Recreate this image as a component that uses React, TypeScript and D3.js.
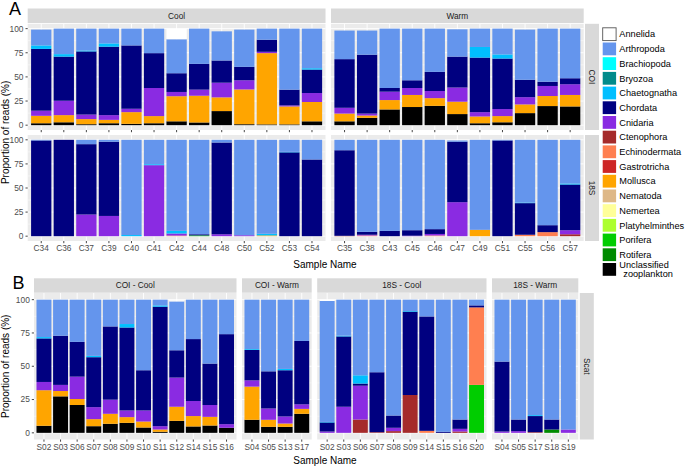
import React from "react";
import * as d3 from "d3";

// ---------- DATA ----------
const taxaNames = [
  "Annelida", "Arthropoda", "Brachiopoda", "Bryozoa", "Chaetognatha", "Chordata", "Cnidaria",
  "Ctenophora", "Echinodermata", "Gastrotricha", "Mollusca", "Nematoda", "Nemertea",
  "Platyhelminthes", "Porifera", "Rotifera", "Unclassified zooplankton",
];
const taxaCodes = ["An", "Ar", "Bp", "Bz", "Ct", "Ch", "Cn", "Ce", "Ec", "Ga", "Mo", "Ne", "Nm", "Pl", "Po", "Ro", "U"];
const taxaColors = [
  "#FFFFFF", "#6495ED", "#00FFFF", "#008B8B", "#00BFFF", "#000080", "#8A2BE2",
  "#A52A2A", "#FF7F50", "#CD2626", "#FFA500", "#DEB887", "#FFFF99",
  "#ADFF2F", "#00CD00", "#008B00", "#000000",
];

// Panel A - COI - Cool
const aCoiCool = [
  { s: "C34", U: 2, Mo: 7.7, Cn: 5.3, Ch: 64, Ct: 3.6, Ar: 16.4 },
  { s: "C36", U: 3, Mo: 7.4, Cn: 14.9, Ch: 45.7, Ct: 2.6, Ar: 26.4 },
  { s: "C37", U: 1, Mo: 5.3, Cn: 4.7, Ch: 65.4, Ct: 1, Ar: 22.6 },
  { s: "C39", U: 2, Mo: 3.5, Cn: 4.9, Ch: 70.9, Ct: 3.4, Ar: 15.3 },
  { s: "C40", U: 1.4, Mo: 12.1, Cn: 3.5, Ch: 65.6, Ar: 17.4 },
  { s: "C41", U: 2, Mo: 7.4, Cn: 29.1, Ch: 36.1, Ar: 25.4 },
  { s: "C42", U: 4, Mo: 26, Cn: 4.4, Ch: 19.4, Ar: 35.2, An: 11 },
  { s: "C44", U: 2.8, Mo: 27.7, Cn: 6.3, Ch: 26.7, Ar: 36.5 },
  { s: "C48", U: 14.6, Mo: 14.2, Cn: 15.2, Ch: 23, Ar: 30.2 },
  { s: "C50", U: 1, Mo: 36, Cn: 9.5, Ch: 13.9, Ar: 38.6 },
  { s: "C52", U: 0.8, Mo: 73.8, Cn: 1.4, Ch: 12.5, Ar: 11.5 },
  { s: "C53", U: 0.8, Mo: 18.6, Cn: 1.1, Ch: 16.3, Ar: 63.2 },
  { s: "C54", U: 4, Mo: 20, Cn: 9.3, Ch: 24.3, Ct: 1.4, Ar: 41 },
];
// Panel A - COI - Warm
const aCoiWarm = [
  { s: "C35", U: 4, Mo: 8, Cn: 6, Ch: 50.4, Ar: 29.6 },
  { s: "C38", U: 7.6, Mo: 2.4, Cn: 2, Ch: 61, Ar: 25 },
  { s: "C43", U: 16.3, Mo: 9.7, Cn: 8.7, Ch: 3.8, Ar: 61.5 },
  { s: "C45", U: 18.8, Mo: 12.5, Cn: 7.2, Ch: 8, Ar: 53.5 },
  { s: "C46", U: 20, Mo: 8, Cn: 7.4, Ch: 19.8, Ar: 44.8 },
  { s: "C47", U: 11.5, Mo: 12.8, Cn: 14.7, Ch: 32, Ar: 28.3 },
  { s: "C49", U: 2, Mo: 7, Cn: 4.5, Ch: 56.5, Ct: 11, Ar: 19 },
  { s: "C51", U: 3, Mo: 6.4, Cn: 7.3, Ch: 52.3, Ct: 4.3, Ar: 26.7 },
  { s: "C55", U: 12.5, Mo: 9, Cn: 7.5, Ch: 18, Ar: 52 },
  { s: "C56", U: 19.8, Mo: 10.4, Cn: 10.4, Ch: 4.4, Ar: 55 },
  { s: "C57", U: 19.4, Mo: 11.9, Cn: 11.1, Ch: 6.2, Ar: 51.4 },
];
// Panel A - 18S - Cool
const a18sCool = [
  { s: "C34", Ch: 99.3, Ar: 0.7 },
  { s: "C36", Ch: 100 },
  { s: "C37", Cn: 22.5, Ch: 73, Ar: 4.5 },
  { s: "C39", Cn: 21, Ch: 77, Ar: 2 },
  { s: "C40", Ct: 1.2, Ar: 98.8 },
  { s: "C41", Cn: 73.7, Ct: 1, Ar: 25.3 },
  { s: "C42", Ec: 0.6, Cn: 2.2, Ct: 2.7, Ar: 94.5 },
  { s: "C44", Po: 0.8, Ch: 1.2, Ar: 98 },
  { s: "C48", Cn: 2, Ch: 95.2, Ar: 2.8 },
  { s: "C50", Cn: 1, Ar: 99 },
  { s: "C52", Mo: 0.8, Ct: 1.7, Ar: 97.5 },
  { s: "C53", Ch: 87, Ct: 0.5, Ar: 12.5 },
  { s: "C54", Ch: 79.6, Ar: 20.4 },
];
// Panel A - 18S - Warm
const a18sWarm = [
  { s: "C35", Ce: 0.4, Ch: 88.8, Ar: 10.8 },
  { s: "C38", Ec: 0.7, Cn: 0.8, Ch: 3, Ar: 95.5 },
  { s: "C43", Ch: 5.5, Ar: 94.5 },
  { s: "C45", Cn: 0.5, Ch: 5.7, Ar: 93.8 },
  { s: "C46", Ec: 0.7, Cn: 1.6, Ch: 5, Ar: 92.7 },
  { s: "C47", Cn: 35.3, Ch: 62.7, Ar: 1.3 },
  { s: "C49", Mo: 6.6, Ar: 93.4 },
  { s: "C51", Ch: 99.3, Ar: 0.7 },
  { s: "C55", Ec: 1.5, Ch: 32.8, Ct: 0.6, Ar: 65.1 },
  { s: "C56", Ec: 4.2, Ch: 7.2, Ar: 88.6 },
  { s: "C57", Ce: 2, Cn: 4.2, Ch: 47.4, Ct: 1.1, Ar: 45.3 },
];
// Panel B - Scat
const bCoiCool = [
  { s: "S02", U: 5.3, Mo: 26.7, Cn: 6.2, Ch: 32.7, Ct: 1, Ar: 28.1 },
  { s: "S03", U: 27.4, Mo: 4, Cn: 4.6, Ch: 36.9, Ar: 27.1 },
  { s: "S06", U: 20.9, Mo: 4.5, Cn: 16.8, Ch: 26.1, Ar: 31.7 },
  { s: "S07", U: 5, Mo: 5.3, Cn: 9, Ch: 37.5, Ct: 1, Ar: 42.2 },
  { s: "S08", U: 6.8, Mo: 7.5, Cn: 10.6, Ch: 55, Ar: 20.1 },
  { s: "S09", U: 7.5, Mo: 4.3, Cn: 5, Ch: 62.3, Ct: 2.6, Ar: 18.3 },
  { s: "S10", U: 4, Mo: 4.5, Cn: 8.3, Ch: 30.2, Ar: 53 },
  { s: "S11", U: 0.8, Mo: 1.7, Cn: 2.5, Ch: 89.7, Ct: 1, Ar: 4.3 },
  { s: "S12", U: 9, Mo: 10.6, Cn: 21.9, Ch: 20.5, Ar: 36.7, An: 0.8 },
  { s: "S14", U: 4.8, Mo: 7.8, Cn: 11.3, Ch: 46.5, Ar: 29.6 },
  { s: "S15", U: 5.5, Mo: 6.5, Cn: 8.9, Ch: 31.1, Ar: 48 },
  { s: "S16", U: 3.8, Cn: 2.7, Ch: 67.6, Ar: 25.9 },
];
const bCoiWarm = [
  { s: "S04", U: 9.8, Mo: 24.9, Cn: 4.7, Ch: 22.9, Ct: 0.6, Ar: 37.1 },
  { s: "S05", U: 4.5, Mo: 5.3, Cn: 8.5, Ch: 27.9, Ar: 53.8 },
  { s: "S13", U: 4.5, Mo: 2.5, Cn: 5.3, Ch: 34.7, Ct: 1, Ar: 52 },
  { s: "S17", U: 14.3, Mo: 3.7, Cn: 3.4, Ch: 47.6, Ar: 31 },
];
const b18sCool = [
  { s: "S02", Cn: 1, Ch: 6.8, Ct: 0.4, Ar: 90.8, An: 1 },
  { s: "S03", Cn: 19.6, Ch: 52.8, Ct: 0.6, Ar: 27 },
  { s: "S06", Ce: 10, Cn: 25.4, Ch: 1.6, Ct: 6.2, Ar: 56.8 },
  { s: "S07", Ce: 0.5, Ch: 45, Ar: 54.5 },
  { s: "S08", Ce: 1.3, Cn: 2.5, Ch: 9.2, Ar: 87 },
  { s: "S09", Ce: 28.4, Ch: 62.6, Ct: 0.5, Ar: 8.5 },
  { s: "S14", Ec: 1.5, Ch: 85.9, Ar: 12.6 },
  { s: "S15", Ch: 0.8, Ar: 99.2 },
  { s: "S16", Ce: 1, Cn: 2, Ch: 7, Ar: 90 },
  { s: "S20", Po: 36, Ec: 58.2, Ch: 1.5, Ar: 4.3 },
];
const b18sWarm = [
  { s: "S04", Cn: 1, Ch: 52.5, Ar: 46.5 },
  { s: "S05", Cn: 1.3, Ch: 8.7, Ar: 90 },
  { s: "S17", Ce: 0.5, Ch: 12.1, Ct: 0.7, Ar: 86.7 },
  { s: "S18", Ro: 2.5, Ch: 7.5, Ar: 90 },
  { s: "S19", Cn: 2.5, Ar: 97.5 },
];

const yTicks = [0, 25, 50, 75, 100];
const yMinor = [12.5, 37.5, 62.5, 87.5];

// ---------- LAYOUT ----------
const W = 685;
const H = 466;
const FONT = "'Liberation Sans', Arial, Helvetica, sans-serif";
const PANEL_BG = "#EBEBEB";
const STRIP_BG = "#D9D9D9";

type Row = { [k: string]: any };

function colRanges(left: number, right: number, gap: number, counts: number[]) {
  const units = counts.map((n) => n + 0.2);
  const total = d3.sum(units);
  const unit = (right - left - gap * (counts.length - 1)) / total;
  const out: [number, number][] = [];
  let x = left;
  units.forEach((u) => {
    out.push([x, x + u * unit]);
    x += u * unit + gap;
  });
  return out;
}

const stackKeys = [...taxaCodes].reverse(); // bottom first

function Panel({ data, x0, x1, top, bottom, showY, showX }: { data: Row[]; x0: number; x1: number; top: number; bottom: number; showY: boolean; showX: boolean }) {
  const x = d3.scaleBand().domain(data.map((d) => d.s)).range([x0, x1]).paddingInner(0.1).paddingOuter(0.15);
  const y = d3.scaleLinear().domain([-5, 105]).range([bottom, top]);
  const filled = data.map((d) => {
    const r: Row = { s: d.s };
    taxaCodes.forEach((k) => (r[k] = d[k] || 0));
    return r;
  });
  const series = d3.stack<Row>().keys(stackKeys)(filled);
  const bw = x.bandwidth();
  return (
    <g>
      <rect x={x0} y={top} width={x1 - x0} height={bottom - top} fill={PANEL_BG} />
      {yMinor.map((t) => (
        <line key={"mi" + t} x1={x0} x2={x1} y1={y(t)} y2={y(t)} stroke="#fff" strokeWidth={0.45} />
      ))}
      {yTicks.map((t) => (
        <line key={"ma" + t} x1={x0} x2={x1} y1={y(t)} y2={y(t)} stroke="#fff" strokeWidth={0.9} />
      ))}
      {data.map((d) => (
        <line key={"vx" + d.s} x1={x(d.s)! + bw / 2} x2={x(d.s)! + bw / 2} y1={top} y2={bottom} stroke="#fff" strokeWidth={0.9} />
      ))}
      {series.map((ser, si) => {
        const code = ser.key;
        const color = taxaColors[taxaCodes.indexOf(code)];
        return ser.map((seg, i) => {
          const h = y(seg[0]) - y(seg[1]);
          if (h <= 0) return null;
          return (
            <rect key={code + i} x={x(filled[i].s)} y={y(seg[1])} width={bw} height={h} fill={color} />
          );
        });
      })}
      {showY &&
        yTicks.map((t) => (
          <g key={"yt" + t}>
            <line x1={x0 - 2.2} x2={x0} y1={y(t)} y2={y(t)} stroke="#333" strokeWidth={0.9} />
            <text x={x0 - 4.2} y={y(t)} dy="0.35em" textAnchor="end" fontSize={8.4} fill="#4D4D4D">{t}</text>
          </g>
        ))}
      {data.map((d) => (
        <line key={"xt" + d.s} x1={x(d.s)! + bw / 2} x2={x(d.s)! + bw / 2} y1={bottom} y2={bottom + 2.2} stroke="#333" strokeWidth={0.9} />
      ))}
      {showX &&
        data.map((d) => (
          <text key={"xl" + d.s} x={x(d.s)! + bw / 2} y={bottom + 10} textAnchor="middle" fontSize={8.3} fill="#4D4D4D">{d.s}</text>
        ))}
    </g>
  );
}

function TopStrip({ x0, x1, y0, y1, label }: { x0: number; x1: number; y0: number; y1: number; label: string }) {
  return (
    <g>
      <rect x={x0} y={y0} width={x1 - x0} height={y1 - y0} fill={STRIP_BG} />
      <text x={(x0 + x1) / 2} y={(y0 + y1) / 2} dy="0.35em" textAnchor="middle" fontSize={8.3} fill="#1A1A1A">{label}</text>
    </g>
  );
}

function RightStrip({ x0, x1, y0, y1, label }: { x0: number; x1: number; y0: number; y1: number; label: string }) {
  const cx = (x0 + x1) / 2;
  const cy = (y0 + y1) / 2;
  return (
    <g>
      <rect x={x0} y={y0} width={x1 - x0} height={y1 - y0} fill={STRIP_BG} />
      <text transform={`translate(${cx},${cy}) rotate(90)`} dy="0.35em" textAnchor="middle" fontSize={8.3} fill="#1A1A1A">{label}</text>
    </g>
  );
}

export default function App() {
  // Panel A
  const aCols = colRanges(27.7, 583.7, 5.5, [aCoiCool.length, aCoiWarm.length]);
  const aRows = [
    { label: "COI", top: 23.8, bottom: 130, data: [aCoiCool, aCoiWarm] },
    { label: "18S", top: 135, bottom: 241, data: [a18sCool, a18sWarm] },
  ];
  const aColLabels = ["Cool", "Warm"];
  // Panel B
  const bData = [bCoiCool, bCoiWarm, b18sCool, b18sWarm];
  const bLabels = ["COI - Cool", "COI - Warm", "18S - Cool", "18S - Warm"];
  const bCols = colRanges(34, 578.3, 5.5, bData.map((d) => d.length));
  const bTop = 293;
  const bBottom = 439.5;

  const legX = 602.7;
  const legY0 = 34.2;
  const legStep = 14.7;

  return (
    <svg width={W} height={H} style={{ position: "absolute", left: 0, top: 0, background: "#fff" }} fontFamily={FONT}>
      <rect width={W} height={H} fill="#fff" />
      {/* Panel A */}
      <text x={9} y={15} fontSize={18} fill="#000">A</text>
      {aColLabels.map((l, ci) => (
        <TopStrip key={l} x0={aCols[ci][0]} x1={aCols[ci][1]} y0={8.5} y1={23} label={l} />
      ))}
      {aRows.map((r, ri) => (
        <g key={r.label}>
          {r.data.map((d, ci) => (
            <Panel key={ci} data={d} x0={aCols[ci][0]} x1={aCols[ci][1]} top={r.top} bottom={r.bottom} showY={ci === 0} showX={ri === aRows.length - 1} />
          ))}
          <RightStrip x0={585} x1={599} y0={r.top} y1={r.bottom} label={r.label} />
        </g>
      ))}
      <text transform={`translate(8.5,${(23.8 + 241) / 2}) rotate(-90)`} textAnchor="middle" fontSize={10} fill="#000">Proportion of reads (%)</text>
      <text x={325} y={267.5} textAnchor="middle" fontSize={10} fill="#000">Sample Name</text>

      {/* Legend */}
      {taxaNames.map((n, i) => {
        const cy = legY0 + i * legStep;
        const isLast = i === taxaNames.length - 1;
        return (
          <g key={n}>
            <rect x={legX} y={cy - 6.4} width={13.4} height={12.8} fill={taxaColors[i]} stroke={i === 0 ? "#555" : "none"} strokeWidth={i === 0 ? 0.9 : 0} />
            {isLast ? (
              <text fontSize={9.2} fill="#000">
                <tspan x={619.3} y={cy - 4.2} dy="0.35em">Unclassified</tspan>
                <tspan x={623.3} y={cy + 4.6} dy="0.35em">zooplankton</tspan>
              </text>
            ) : (
              <text x={619.3} y={cy} dy="0.35em" fontSize={9.2} fill="#000">{n}</text>
            )}
          </g>
        );
      })}

      {/* Panel B */}
      <text x={12.5} y={288.7} fontSize={18} fill="#000">B</text>
      {bLabels.map((l, ci) => (
        <TopStrip key={l} x0={bCols[ci][0]} x1={bCols[ci][1]} y0={278.3} y1={292.7} label={l} />
      ))}
      {bData.map((d, ci) => (
        <Panel key={ci} data={d} x0={bCols[ci][0]} x1={bCols[ci][1]} top={bTop} bottom={bBottom} showY={ci === 0} showX={true} />
      ))}
      <RightStrip x0={579.8} x1={593.8} y0={bTop} y1={bBottom} label="Scat" />
      <text transform={`translate(8.5,${(bTop + bBottom) / 2}) rotate(-90)`} textAnchor="middle" fontSize={10} fill="#000">Proportion of reads (%)</text>
      <text x={325} y={463.5} textAnchor="middle" fontSize={10} fill="#000">Sample Name</text>
    </svg>
  );
}
